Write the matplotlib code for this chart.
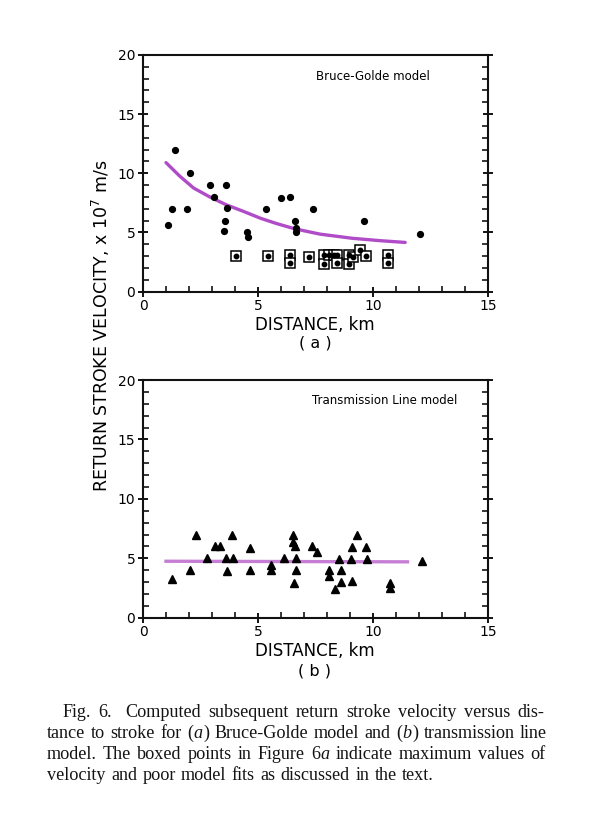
import matplotlib
matplotlib.use("Agg")
import matplotlib.pyplot as plt
from matplotlib.ticker import MultipleLocator

# ---------------- data ----------------
# (a) Bruce-Golde model: plain points
bg_dot_x = [1.1, 1.25, 1.4, 1.9, 2.05, 2.9, 3.1, 3.5, 3.55, 3.6, 3.65, 4.5, 4.55,
            5.35, 6.0, 6.4, 6.6, 6.65, 6.65, 7.4, 9.6, 12.05]
bg_dot_y = [5.6, 7.0, 12.0, 7.0, 10.0, 9.0, 8.0, 5.1, 6.0, 9.0, 7.1, 5.0, 4.6,
            7.0, 7.9, 8.0, 6.0, 5.4, 5.0, 7.0, 6.0, 4.9]
# (a) boxed points
box_x = [4.05, 5.45, 6.4, 6.4, 7.2, 7.85, 7.85, 8.1, 8.3, 8.45, 8.45, 8.95, 8.95,
         9.15, 9.45, 9.7, 10.65, 10.65]
box_y = [3.0, 3.0, 3.1, 2.4, 2.9, 3.05, 2.35, 3.05, 3.05, 3.05, 2.4, 3.05, 2.35,
         2.95, 3.5, 3.0, 3.1, 2.4]
# (a) fitted curve
fit_a_x = [1.0, 1.6, 2.2, 2.9, 3.6, 4.4, 5.1, 5.8, 6.6, 7.7, 9.1, 10.3, 11.4]
fit_a_y = [10.9, 9.75, 8.75, 8.0, 7.35, 6.75, 6.2, 5.75, 5.3, 4.85, 4.5, 4.3, 4.15]

# (b) Transmission line model: triangles
tl_x = [1.25, 2.05, 2.3, 2.8, 3.15, 3.35, 3.6, 3.65, 3.85, 3.9, 4.65, 4.65, 5.55,
        5.55, 6.15, 6.5, 6.5, 6.6, 6.65, 6.65, 6.55, 7.35, 7.55, 8.1, 8.1, 8.35,
        8.5, 8.6, 8.6, 9.05, 9.1, 9.3, 9.1, 9.7, 9.75, 10.75, 10.75, 12.15]
tl_y = [3.25, 4.0, 7.0, 5.0, 6.05, 6.05, 5.05, 3.9, 7.0, 5.0, 5.9, 4.0, 4.45,
        4.0, 5.05, 7.0, 6.4, 6.0, 5.0, 4.0, 2.95, 6.0, 5.5, 4.0, 3.5, 2.4,
        4.95, 4.0, 3.0, 4.9, 5.95, 7.0, 3.05, 5.95, 4.9, 2.95, 2.5, 4.8]
fit_b_x = [1.0, 11.5]
fit_b_y = [4.75, 4.7]

x_ticks = [0, 5, 10, 15]
y_ticks = [0, 5, 10, 15, 20]

# ---------------- figure ----------------
W, H = 608, 816
fig = plt.figure(figsize=(W / 100, H / 100), dpi=100)
fig.patch.set_facecolor("white")

def px_rect(l, t, r, b):
    return [l / W, 1 - b / H, (r - l) / W, (b - t) / H]

ax1 = fig.add_axes(px_rect(143, 55, 488, 291.5))
ax2 = fig.add_axes(px_rect(143, 380, 488, 617.7))

curve_col = "#b04cc8"

def style_axis(ax):
    ax.set_xlim(0, 15)
    ax.set_ylim(0, 20)
    ax.set_xticks(x_ticks)
    ax.set_yticks(y_ticks)
    ax.xaxis.set_minor_locator(MultipleLocator(1))
    ax.yaxis.set_minor_locator(MultipleLocator(1))
    ax.tick_params(which="major", direction="inout", length=7, width=1.3,
                   labelsize=10, right=True, top=False, pad=2)
    ax.tick_params(which="minor", direction="in", length=4, width=1.1,
                   right=True, top=False)
    for s in ax.spines.values():
        s.set_linewidth(1.5)
        s.set_color("#111111")

style_axis(ax1)
style_axis(ax2)

# panel (a)
ax1.plot(fit_a_x, fit_a_y, color=curve_col, lw=2.4, solid_capstyle="round",
         solid_joinstyle="round", zorder=2)
ax1.plot(bg_dot_x, bg_dot_y, "o", color="black", ms=4.2, zorder=3)
ax1.plot(box_x, box_y, "s", mfc="white", mec="black", mew=1.1, ms=6.5, zorder=3)
ax1.plot(box_x, box_y, "o", color="black", ms=3.2, zorder=4)
ax1.text(10.0, 18.2, "Bruce-Golde model", fontsize=8.5, ha="center", va="center")

# panel (b)
ax2.plot(fit_b_x, fit_b_y, color="#c070d0", lw=2.4, alpha=0.9, zorder=2)
ax2.plot(tl_x, tl_y, "^", color="black", ms=5.5, zorder=3)
ax2.text(10.5, 18.3, "Transmission Line model", fontsize=8.5, ha="center", va="center")

# labels
fig.text(315 / W, 1 - 325 / H, "DISTANCE, km", fontsize=12, ha="center", va="center")
fig.text(315 / W, 1 - 343 / H, "( a )", fontsize=11.5, ha="center", va="center")
fig.text(315 / W, 1 - 651 / H, "DISTANCE, km", fontsize=12, ha="center", va="center")
fig.text(315 / W, 1 - 671 / H, "( b )", fontsize=11.5, ha="center", va="center")
fig.text(101 / W, 1 - 326 / H, r"RETURN STROKE VELOCITY, x 10$^7$ m/s",
         fontsize=12.5, rotation=90, ha="center", va="center")

# caption (justified)
serif = "Liberation Serif"
cap_fs = 13.1
lines = [
    (63, [[("Fig.", 0)], [("6.", 0)], [("Computed", 0)], [("subsequent", 0)],
          [("return", 0)], [("stroke", 0)], [("velocity", 0)], [("versus", 0)], [("dis-", 0)]],
     False, 717, {1: 6}),
    (47, [[("tance", 0)], [("to", 0)], [("stroke", 0)], [("for", 0)], [("(", 0), ("a", 1), (")", 0)],
          [("Bruce-Golde", 0)], [("model", 0)], [("and", 0)], [("(", 0), ("b", 1), (")", 0)],
          [("transmission", 0)], [("line", 0)]], False, 738, {}),
    (47, [[("model.", 0)], [("The", 0)], [("boxed", 0)], [("points", 0)], [("in", 0)],
          [("Figure", 0)], [("6", 0), ("a", 1)], [("indicate", 0)], [("maximum", 0)],
          [("values", 0)], [("of", 0)]], False, 759, {}),
    (47, [[("velocity", 0)], [("and", 0)], [("poor", 0)], [("model", 0)], [("fits", 0)],
          [("as", 0)], [("discussed", 0)], [("in", 0)], [("the", 0)], [("text.", 0)]],
     True, 780, {}),
]
right_edge = 540
fig.canvas.draw()
renderer = fig.canvas.get_renderer()
for x0, words, last, ybase, extra in lines:
    items = []
    total = 0.0
    for w in words:
        segs = []
        ww = 0.0
        for seg, it in w:
            t = fig.text(0, 1 - ybase / H, seg, fontsize=cap_fs, family=serif,
                         style="italic" if it else "normal", va="baseline",
                         ha="left", color="#141414")
            bw = t.get_window_extent(renderer).width
            segs.append((t, bw))
            ww += bw
        items.append((segs, ww))
        total += ww
    n = len(items)
    extra_total = sum(extra.values())
    if last:
        gap = cap_fs * 1.389 * 0.27
    else:
        gap = (right_edge - x0 - total - extra_total) / (n - 1)
    x = x0
    for i, (segs, ww) in enumerate(items):
        for t, bw in segs:
            t.set_x(x / W)
            x += bw + 0.5
        x += gap + extra.get(i, 0)

fig.savefig("out.png", dpi=100, facecolor="white")
